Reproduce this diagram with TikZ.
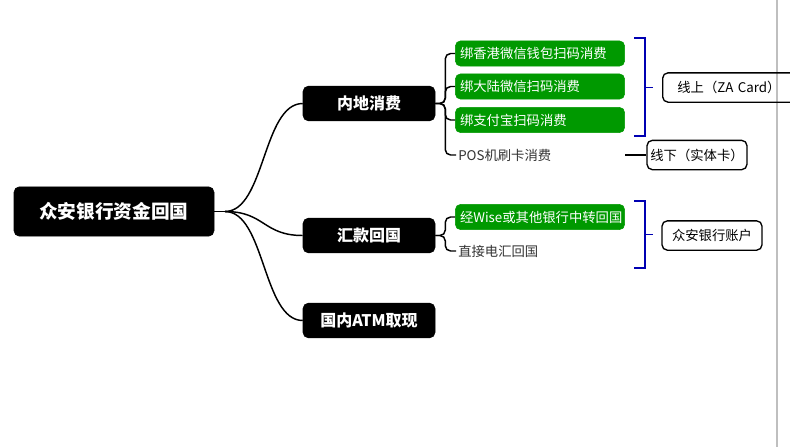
\documentclass[tikz,border=0pt]{standalone}
\usepackage{fontspec}
\setmainfont{Noto Sans CJK SC}
\usetikzlibrary{calc}

\tikzset{
  topic/.style={draw=black,fill=black,rounded corners=4pt,text=white,font=\bfseries\fontsize{14}{14}\selectfont,minimum width=150pt,minimum height=37pt,inner sep=0pt},
  branch/.style={draw=black,fill=black,rounded corners=4pt,text=white,font=\bfseries\fontsize{12}{12}\selectfont,minimum width=99pt,minimum height=26pt,inner sep=0pt},
  leaf/.style={fill=green!60!black,draw=green!60!black,rounded corners=4pt,text=white,font=\fontsize{10}{10}\selectfont,minimum width=127pt,minimum height=19pt,inner sep=0pt,text width=120pt,align=left},
  plain/.style={font=\fontsize{10}{10}\selectfont,text=black!80,inner sep=0pt,anchor=west},
  note/.style={draw=black,line width=1pt,rounded corners=4pt,font=\fontsize{10}{10}\selectfont,minimum height=22pt,inner sep=0pt},
  link/.style={line width=1.1pt,rounded corners=4pt},
  brace/.style={draw=blue!70!black,line width=1.2pt}
}

\begin{document}
\begin{tikzpicture}[x=0.75pt,y=0.75pt,yscale=-1,xscale=1]
  \useasboundingbox (0,0) rectangle (790,447);
  \fill[white] (0,0) rectangle (790,447);
  \draw[black!25,line width=1.5pt] (777,0) -- (777,447);

  % main topic and branches
  \node[topic] (root) at (114,211.5) {众安银行资金回国};
  \node[branch] (spend) at (369,103.5) {内地消费};
  \node[branch] (remit) at (369,235.5) {汇款回国};
  \node[branch] (atm) at (369,320.5) {国内ATM取现};
  \coordinate (fork) at (225,211.5);

  % leaves
  \node[leaf] (hkwx) at (540,53.5) {绑香港微信钱包扫码消费};
  \node[leaf] (cnwx) at (540,86.5) {绑大陆微信扫码消费};
  \node[leaf] (ali) at (540,120) {绑支付宝扫码消费};
  \node[plain] (pos) at (458,155) {POS机刷卡消费};
  \node[leaf] (wise) at (540,217) {经Wise或其他银行中转回国};
  \node[plain] (wire) at (458,251) {直接电汇回国};

  % notes
  \node[note,minimum width=128pt,anchor=west,text width=118pt,align=left] (online) at (662,87.5) {\hspace*{6pt}线上（ZA Card）};
  \node[note,minimum width=75pt] (offline) at (697,155) {线下（实体卡）};
  \node[note,minimum width=75pt] (acct) at (712,235.5) {众安银行账户};

  % connectors
  \draw[line width=1.1pt] (root.east) -- (fork);
  \foreach \b in {spend,remit,atm}
    \draw[line width=1.1pt] (fork) .. controls ($(fork)+(40,0)$) and ($(\b.west)-(40,0)$) .. (\b.west);
  \foreach \l in {hkwx,cnwx,ali}
    \draw[link] (spend.east) -- ++(10,0) |- (\l.west);
  \draw[link] (spend.east) -- ++(10,0) |- ($(pos.west)+(-2,0)$);
  \draw[link] (remit.east) -- ++(10,0) |- (wise.west);
  \draw[link] (remit.east) -- ++(10,0) |- ($(wire.west)+(-2,0)$);
  \draw[line width=1.1pt] (625,155) -- (offline.west);

  % brackets
  \draw[brace] (634,38) -- (645,38) -- (645,136) -- (634,136);
  \draw[brace] (645,87.5) -- (653,87.5);
  \draw[brace] (634,201) -- (645,201) -- (645,268) -- (634,268);
  \draw[brace] (645,234.5) -- (653,234.5);
\end{tikzpicture}
\end{document}
